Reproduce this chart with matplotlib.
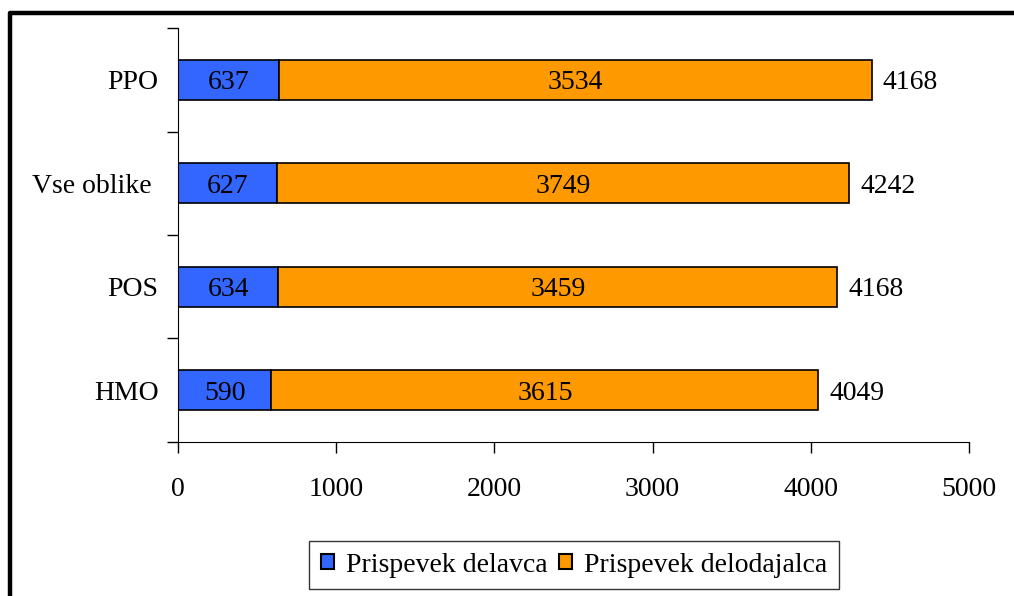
import matplotlib.pyplot as plt
from matplotlib.lines import Line2D
from matplotlib.patches import Patch

# podatki (od spodaj navzgor)
kategorije = ['HMO', 'POS', 'Vse oblike ', 'PPO']
delavec = [590, 634, 627, 637]
delodajalec = [3459, 3534, 3615, 3749]          # dolzine oranznih segmentov na sliki
delodajalec_oznake = ['3615', '3459', '3749', '3534']
skupaj_oznake = ['4049', '4168', '4242', '4168']

modra = '#3366FF'
oranzna = '#FF9900'

plt.rcParams['font.family'] = ['Liberation Serif', 'DejaVu Serif']
plt.rcParams['font.size'] = 20

fig = plt.figure(figsize=(10.14, 5.96), dpi=100)
ax = fig.add_axes([0.1755, 0.2584, 0.78, 0.6946])

y = range(len(kategorije))
ax.barh(y, delavec, height=0.39, color=modra, edgecolor='black', linewidth=1.2)
ax.barh(y, delodajalec, left=delavec, height=0.39, color=oranzna,
        edgecolor='black', linewidth=1.2)

for i in y:
    ax.text(delavec[i] / 2, i, str(delavec[i]), ha='center', va='center_baseline')
    ax.text(delavec[i] + delodajalec[i] / 2, i, delodajalec_oznake[i],
            ha='center', va='center_baseline')
    ax.text(delavec[i] + delodajalec[i] + 70, i, skupaj_oznake[i],
            ha='left', va='center_baseline')

ax.set_xlim(0, 5000)
ax.set_ylim(-0.5, len(kategorije) - 0.5)
ax.set_xticks([0, 1000, 2000, 3000, 4000, 5000])
ax.set_yticks([i - 0.5 for i in range(len(kategorije) + 1)])
ax.set_yticklabels([])
ax.set_yticks(list(y), minor=True)
ax.set_yticklabels(kategorije, minor=True, va='center_baseline')
ax.tick_params(axis='y', which='minor', length=0, pad=14)
ax.tick_params(axis='both', which='major', direction='out', length=8, width=1)
ax.tick_params(axis='x', pad=17)
for s in ['top', 'right']:
    ax.spines[s].set_visible(False)

fig.legend(handles=[Patch(facecolor=modra, edgecolor='black', linewidth=1.5,
                          label='Prispevek delavca'),
                    Patch(facecolor=oranzna, edgecolor='black', linewidth=1.5,
                          label='Prispevek delodajalca')],
           loc='center', bbox_to_anchor=(0.566, 0.052), ncol=2, frameon=True,
           fancybox=False, edgecolor='black', handlelength=0.47, handleheight=0.47,
           handletextpad=0.43, columnspacing=0.4, borderpad=0.42)

# okvir slike
fig.add_artist(Line2D([0.0099, 0.0099, 1.0], [0.0, 0.978, 0.978],
                      color='black', linewidth=3.2, transform=fig.transFigure))

fig.savefig('out.png', dpi=100)
